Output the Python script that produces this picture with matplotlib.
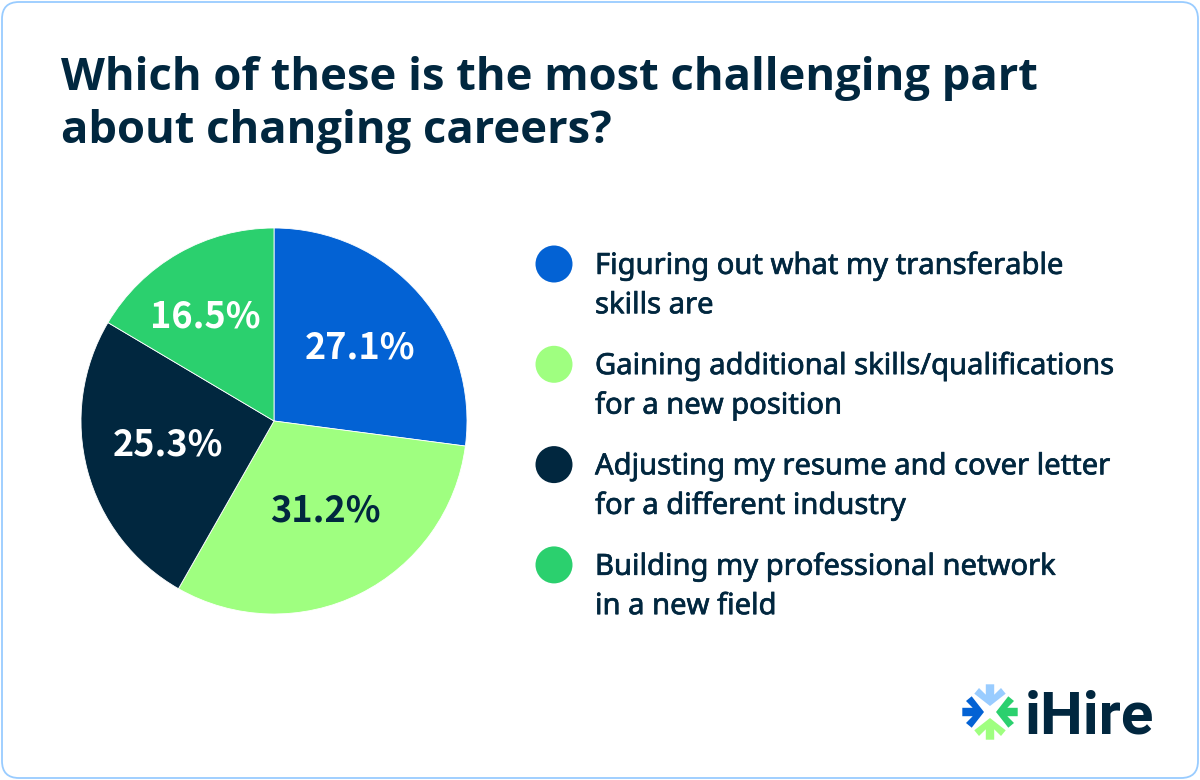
import numpy as np
import matplotlib
matplotlib.use("Agg")
import matplotlib.pyplot as plt
import matplotlib.patheffects as pe
from matplotlib.patches import FancyBboxPatch, Polygon, Circle

categories = [
    "Figuring out what my transferable\nskills are",
    "Gaining additional skills/qualifications\nfor a new position",
    "Adjusting my resume and cover letter\nfor a different industry",
    "Building my professional network\nin a new field",
]
shares = [27.1, 31.2, 25.3, 16.5]
colors = ["#0362D4", "#9FFF80", "#01273F", "#2BD06E"]
pct_colors = ["white", "#01273F", "white", "white"]
title = "Which of these is the most challenging part\nabout changing careers?"

NAVY = "#01273F"
plt.rcParams["font.family"] = ["Noto Sans", "DejaVu Sans"]

fig = plt.figure(figsize=(12, 7.8), dpi=100, facecolor="white")

# pixel canvas for the card, title, legend and logo
bg = fig.add_axes([0, 0, 1, 1])
bg.set_xlim(0, 1200)
bg.set_ylim(780, 0)
bg.axis("off")

bg.add_patch(FancyBboxPatch((2, 2), 1196, 776, boxstyle="round,pad=0,rounding_size=17",
                            facecolor="white", edgecolor="#99CCFF", linewidth=1.3))
bg.text(61, 105, title, fontsize=32.7, fontweight="bold", family="Open Sans", color=NAVY,
        va="center", ha="left", linespacing=1.24)

# legend
heavier = [pe.withStroke(linewidth=0.5, foreground=NAVY)]
for i, (cat, col) in enumerate(zip(categories, colors)):
    y = 264 + i * 100.3
    bg.add_patch(Circle((554, y), 18.5, facecolor=col, edgecolor="none"))
    bg.text(595, y + 22, cat, fontsize=21.0, color=NAVY, va="center", ha="left",
            linespacing=1.47, path_effects=heavier)

# pie
ax = fig.add_axes([81 / 1200, (780 - 614) / 780, 386 / 1200, 386 / 780])
wedges, _, autotexts = ax.pie(shares, colors=colors, startangle=90, counterclock=False,
                              autopct="%.1f%%", radius=1,
                              wedgeprops={"edgecolor": "white", "linewidth": 0.6})
ax.set_xlim(-1, 1)
ax.set_ylim(-1, 1)
# labels are not quite on the bisectors in the original, hence the angle nudges
label_r = [0.60, 0.514, 0.558, 0.668]
label_nudge = [1.0, 4.6, -4.6, 2.6]
for w, t, r, n, c in zip(wedges, autotexts, label_r, label_nudge, pct_colors):
    a = np.deg2rad((w.theta1 + w.theta2) / 2 + n)
    t.set_position((r * np.cos(a), r * np.sin(a) - 0.025))
    t.set_color(c)
    t.set_fontsize(26)
    t.set_fontweight("bold")
    t.set_fontfamily("Noto Sans CJK JP")

# logo
cx, cy = 990, 712
logo_cols = {90: "#99CCFF", 0: "#2BD06E", 270: "#9FFF80", 180: "#0362D4"}
arm = np.array([[-4.2, 27.7], [4.2, 27.7], [4.2, 17.3], [11, 24], [15.7, 18.3], [0, 6],
                [-15.7, 18.3], [-11, 24], [-4.2, 17.3]])
for ang, col in logo_cols.items():
    a = np.deg2rad(ang - 90)
    rot = np.array([[np.cos(a), -np.sin(a)], [np.sin(a), np.cos(a)]])
    pts = arm @ rot.T
    bg.add_patch(Polygon(np.c_[cx + pts[:, 0], cy - pts[:, 1]], closed=True, facecolor=col, edgecolor="none"))
bg.text(1025, 733, "iHire", fontsize=43.5, fontweight="bold", family="Roboto", color=NAVY,
        va="baseline", ha="left")

fig.savefig("out.png", dpi=100)
